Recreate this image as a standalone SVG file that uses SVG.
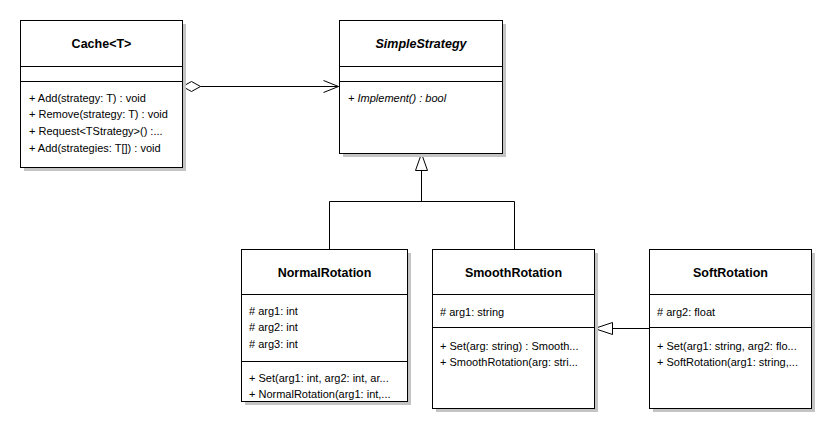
<svg xmlns="http://www.w3.org/2000/svg" width="836" height="436" viewBox="0 0 836 436">
<style>
.shadow{fill:#c4c4c4}
.box{fill:#fff;stroke:#000;stroke-width:1}
.div{stroke:#000;stroke-width:1}
.title{font-family:"Liberation Sans",Arial,sans-serif;font-size:12.5px;font-weight:bold;text-anchor:middle}
.t{font-family:"Liberation Sans",Arial,sans-serif;font-size:11px}
.it{font-style:italic}
.conn{fill:none;stroke:#000;stroke-width:1}
</style>
<rect width="836" height="436" fill="#fff"/>
<g id="connectors">
  <path class="conn" d="M200.5,86.5 H338.5"/>
  <path class="conn" d="M182.5,86.5 L191.5,81.5 L200.5,86.5 L191.5,91.5 Z" fill="#fff"/>
  <path class="conn" d="M323.5,80.5 L338.5,86.5 L323.5,92.5"/>
  <path class="conn" d="M421.5,170.5 V201.5 M329.5,201.5 H514.5 M329.5,201.5 V249.5 M514.5,201.5 V249.5"/>
  <path class="conn" d="M421.5,153.5 L415.5,170.5 L427.5,170.5 Z" fill="#fff"/>
  <path class="conn" d="M612.5,328.5 H649.5"/>
  <path class="conn" d="M594.5,328.5 L612.5,322.5 L612.5,334.5 Z" fill="#fff"/>
</g>
<g id="Cache">
  <rect class="shadow" x="24" y="24" width="162" height="147"/>
  <rect class="box" x="20.5" y="20.5" width="162" height="147"/>
  <line class="div" x1="20.5" y1="66.5" x2="182.5" y2="66.5"/>
  <line class="div" x1="20.5" y1="81.5" x2="182.5" y2="81.5"/>
  <text class="title" x="101.5" y="48">Cache&lt;T&gt;</text>
  <text class="t" x="29" y="102">+ Add(strategy: T) : void</text>
  <text class="t" x="29" y="118">+ Remove(strategy: T) : void</text>
  <text class="t" x="29" y="135">+ Request&lt;TStrategy&gt;() :...</text>
  <text class="t" x="29" y="152">+ Add(strategies: T[]) : void</text>
</g>
<g id="SimpleStrategy">
  <rect class="shadow" x="343" y="24" width="163" height="133"/>
  <rect class="box" x="339.5" y="20.5" width="163" height="133"/>
  <line class="div" x1="339.5" y1="66.5" x2="502.5" y2="66.5"/>
  <line class="div" x1="339.5" y1="81.5" x2="502.5" y2="81.5"/>
  <text class="title it" x="421" y="48">SimpleStrategy</text>
  <text class="t it" x="348" y="102">+ Implement() : bool</text>
</g>
<g id="NormalRotation">
  <rect class="shadow" x="245" y="253" width="166" height="152"/>
  <rect class="box" x="241.5" y="249.5" width="166" height="152"/>
  <line class="div" x1="241.5" y1="294.5" x2="407.5" y2="294.5"/>
  <line class="div" x1="241.5" y1="361.5" x2="407.5" y2="361.5"/>
  <text class="title" x="324.5" y="277">NormalRotation</text>
  <text class="t" x="249" y="315">#  arg1: int</text>
  <text class="t" x="249" y="331">#  arg2: int</text>
  <text class="t" x="249" y="348">#  arg3: int</text>
  <text class="t" x="249" y="382">+ Set(arg1: int, arg2: int, ar...</text>
  <text class="t" x="249" y="398">+ NormalRotation(arg1: int,...</text>
</g>
<g id="SmoothRotation">
  <rect class="shadow" x="436" y="253" width="162" height="159"/>
  <rect class="box" x="432.5" y="249.5" width="162" height="159"/>
  <line class="div" x1="432.5" y1="294.5" x2="594.5" y2="294.5"/>
  <line class="div" x1="432.5" y1="327.5" x2="594.5" y2="327.5"/>
  <text class="title" x="513.5" y="277">SmoothRotation</text>
  <text class="t" x="440" y="316">#  arg1: string</text>
  <text class="t" x="440" y="350">+ Set(arg: string) : Smooth...</text>
  <text class="t" x="440" y="366">+ SmoothRotation(arg: stri...</text>
</g>
<g id="SoftRotation">
  <rect class="shadow" x="653" y="253" width="162" height="159"/>
  <rect class="box" x="649.5" y="249.5" width="162" height="159"/>
  <line class="div" x1="649.5" y1="294.5" x2="811.5" y2="294.5"/>
  <line class="div" x1="649.5" y1="327.5" x2="811.5" y2="327.5"/>
  <text class="title" x="730.5" y="277">SoftRotation</text>
  <text class="t" x="657" y="316">#  arg2: float</text>
  <text class="t" x="657" y="350">+ Set(arg1: string, arg2: flo...</text>
  <text class="t" x="657" y="366">+ SoftRotation(arg1: string,...</text>
</g>
</svg>
